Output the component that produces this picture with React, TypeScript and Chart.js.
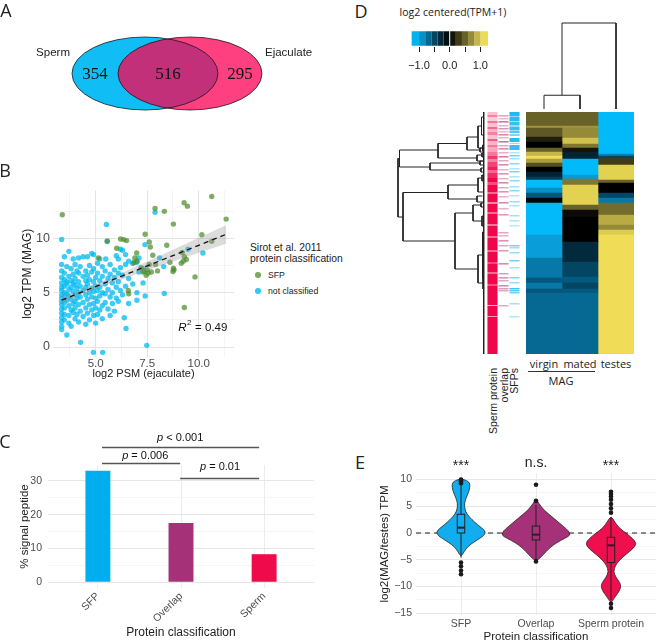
import React, { useEffect, useRef } from 'react';
import { Chart, registerables } from 'chart.js';

Chart.register(...registerables);

const SANS = "'Liberation Sans', Arial, Helvetica, sans-serif";
const HUM = "'Open Sans', 'Liberation Sans', sans-serif";
const SERIF = "'Liberation Serif', 'Times New Roman', serif";
Chart.defaults.font.family = SANS;
Chart.defaults.color = '#4D4D4D';

// ---------------- Panel A: Venn ----------------
const vennNames = ['Sperm', 'Ejaculate'];
const vennCenterX = [0, 0.616];
const vennCenterY = [0, 0];
const vennRadiusX = [1.0, 0.986];
const vennRadiusY = [0.5, 0.5];
const vennCounts = [354, 516, 295]; // only sperm, both, only ejaculate

// ---------------- Panel B: scatter ----------------
const sfpPoints: [number, number][] = [
  [3.38, 12.17], [10.63, 13.85], [9.29, 13.27], [9.45, 12.96], [7.88, 12.75], [8.33, 12.48], [11.33, 11.77],
  [8.77, 11.31], [10.15, 10.33], [10.63, 9.72], [6.21, 9.94], [6.36, 9.88], [6.5, 9.79], [5.56, 9.75], [7.6, 9.67],
  [8.45, 9.36], [7.65, 9.2], [7.77, 8.44], [6.99, 8.65], [6.9, 8.2], [7.0, 7.9], [6.85, 7.75], [6.02, 9.08],
  [9.2, 8.7], [9.3, 8.3], [9.25, 7.9], [9.4, 8.05], [9.15, 7.7], [7.6, 7.6], [7.9, 7.6], [5.13, 8.2], [7.3, 6.9],
  [7.5, 7.1], [7.45, 6.6], [8.75, 6.95], [8.8, 7.1], [9.82, 6.45], [6.58, 5.2], [6.6, 4.9], [9.3, 3.64], [7.2, 7.3],
  [8.0, 7.0], [7.7, 6.9], [8.6, 7.8], [7.4, 10.37], [8.77, 7.25], [7.35, 7.0], [7.55, 6.8],
];
const otherPoints: [number, number][] = [
  [3.35, 9.9], [3.35, 7.6], [3.35, 7.0], [3.35, 6.4], [3.35, 5.9], [3.35, 5.5], [3.35, 5.2], [3.35, 4.8], [3.35, 4.5],
  [3.35, 4.2], [3.35, 3.9], [3.35, 3.5], [3.35, 3.1], [3.35, 2.7], [3.35, 2.3], [3.35, 1.9], [3.35, 1.6],
  [3.48, 8.3], [3.48, 6.8], [3.48, 6.2], [3.48, 5.6], [3.48, 5.0], [3.48, 4.6], [3.48, 4.1], [3.48, 3.6], [3.48, 3.0], [3.48, 2.5],
  [3.6, 1.1], [3.6, 5.8], [3.6, 4.9], [3.6, 4.3], [3.6, 7.4], [3.6, 6.0],
  [3.7, 8.8], [3.7, 6.5], [3.7, 5.3], [3.7, 4.7], [3.7, 3.8], [3.7, 2.9], [3.7, 2.2],
  [3.81, 7.2], [3.81, 6.1], [3.81, 5.5], [3.81, 4.4], [3.81, 3.4], [3.81, 1.9],
  [3.91, 8.1], [3.91, 6.7], [3.91, 5.9], [3.91, 5.1], [3.91, 4.0], [3.91, 3.2],
  [4.0, 7.6], [4.0, 6.3], [4.0, 5.7], [4.0, 4.8], [4.0, 4.2], [4.0, 3.6], [4.0, 2.6],
  [4.09, 7.0], [4.09, 5.4], [4.09, 4.5], [4.09, 3.0],
  [4.17, 8.2], [4.17, 6.8], [4.17, 6.0], [4.17, 5.0], [4.17, 3.9], [4.17, 2.3],
  [4.27, 0.43], [4.25, 7.4], [4.25, 5.6], [4.25, 4.6], [4.25, 3.3],
  [4.39, 8.3], [4.39, 6.5], [4.39, 5.2], [4.39, 4.1], [4.39, 2.8],
  [4.52, 7.0], [4.52, 6.1], [4.52, 5.5], [4.52, 4.8], [4.52, 3.6], [4.52, 2.1],
  [4.6, 8.3], [4.6, 6.6], [4.6, 5.8], [4.6, 4.4], [4.6, 3.1],
  [4.7, 7.5], [4.7, 6.2], [4.7, 5.0], [4.7, 3.9], [4.7, 2.5],
  [4.81, 8.6], [4.81, 6.9], [4.81, 5.4], [4.81, 4.6], [4.81, 3.4],
  [4.9, 8.5], [4.9, 7.2], [4.9, 6.0], [4.9, 5.1], [4.9, 4.0], [4.9, 2.9], [4.89, -0.49],
  [5.0, 6.4], [5.0, 5.6], [5.0, 4.5], [5.0, 3.6], [5.0, 2.2],
  [5.09, 7.7], [5.09, 6.8], [5.09, 5.2], [5.09, 4.2], [5.09, 3.0],
  [5.2, 8.1], [5.2, 6.1], [5.2, 5.5], [5.2, 4.7], [5.2, 3.4],
  [5.34, -0.49], [5.32, 7.4], [5.32, 6.5], [5.32, 5.0], [5.32, 3.8], [5.32, 2.6],
  [5.52, 11.28], [5.56, 9.7], [5.49, 8.1], [5.46, 7.0], [5.46, 5.8], [5.46, 4.9], [5.46, 4.1],
  [5.6, 6.3], [5.6, 5.3], [5.6, 3.5], [5.7, 7.6], [5.7, 6.7], [5.7, 4.6], [5.7, 2.9],
  [5.81, 5.9], [5.81, 5.0], [5.81, 4.0], [5.91, 7.1], [5.91, 6.4], [5.91, 3.3],
  [6.0, 8.4], [6.0, 5.5], [6.0, 4.5], [6.1, 8.1], [6.1, 6.8], [6.1, 6.0], [6.1, 4.2],
  [6.2, 9.0], [6.2, 7.3], [6.2, 5.2], [6.3, 8.9], [6.3, 6.6], [6.3, 4.8], [6.39, 2.69],
  [6.45, 8.5], [6.45, 7.6], [6.45, 5.6], [6.47, 1.71], [6.6, 7.9], [6.6, 6.3], [6.6, 4.0],
  [6.8, 7.7], [6.8, 5.8], [7.0, 7.8], [7.0, 5.0], [7.0, 4.3], [7.1, 8.2], [7.1, 6.9],
  [7.3, 5.9], [7.3, 7.2], [7.39, 9.42], [7.4, 4.7], [7.48, 0.15], [7.88, 12.39], [8.1, 8.2],
  [8.33, 4.93], [8.3, 7.4], [9.48, 8.99], [10.2, 8.65],
];
const fitX = [3.35, 11.33];
const fitY = [4.31, 10.37];
const bandX = [3.35, 5.0, 7.5, 10.0, 11.33];
const bandLo = [3.95, 5.33, 7.05, 8.68, 9.5];
const bandHi = [4.67, 5.82, 7.87, 10.05, 11.2];
const bTicksX = [3.75, 5, 6.25, 7.5, 8.75, 10, 11.25];
const bMajorX = [5, 7.5, 10];
const bTicksY = [0, 2.5, 5, 7.5, 10, 12.5];
const bMajorY = [0, 5, 10];
const rSquared = '0.49';

// ---------------- Panel C: bars ----------------
const sigCats = ['SFP', 'Overlap', 'Sperm'];
const sigPct = [33.0, 17.5, 8.3];
const sigColors = ['#00AEEF', '#A53278', '#EF0A4B'];
const cmpX0 = [1.05, 1.05, 1.99];
const cmpX1 = [2.94, 1.99, 2.94];
const cmpLineY = [40.0, 35.3, 30.8];
const cmpTextX = [1.99, 1.57, 2.47];
const cmpTextY = [42.7, 37.4, 34.1];
const cmpText = ['< 0.001', '= 0.006', '= 0.01'];
const cTicksY = [0, 5, 10, 15, 20, 25, 30];

// ---------------- Panel D: heatmap ----------------
const heatCols = ['virgin', 'mated', 'testes'];
const heatVirgin = [[0, 14, 0.5], [14, 16, 0.75], [16, 25, 0.45], [25, 30, 0.15], [30, 36, 0.0], [36, 40, 0.5], [40, 44, 0.9], [44, 47, 1.15], [47, 51, 0.8], [51, 55, 0.4], [55, 60, 0.0], [60, 65, -0.25], [65, 68, -0.45], [68, 76, -1.2], [76, 81, -0.9], [81, 86, -0.6], [86, 91, -0.05], [91, 123, -1.2], [123, 146, -0.97], [146, 166, -0.8], [166, 171, -0.6], [171, 177, -0.8], [177, 181, -0.6], [181, 242, -0.72]];
const heatMated = [[0, 14, 0.5], [14, 16, 0.75], [16, 26, 0.7], [26, 32, 0.95], [32, 36, 0.6], [36, 40, 0.1], [40, 47, -0.25], [47, 63, -1.2], [63, 67, -0.95], [67, 73, 0.6], [73, 93, 1.05], [93, 98, 0.5], [98, 105, 0.05], [105, 130, 0.0], [130, 150, -0.3], [150, 165, -0.5], [165, 171, -0.62], [171, 177, -0.5], [177, 181, -0.62], [181, 242, -0.72]];
const heatTestes = [[0, 42, -1.2], [42, 44, -0.85], [44, 46, -0.5], [46, 53, 0.3], [53, 68, 1.05], [68, 71, 0.5], [71, 81, 0.0], [81, 86, -0.5], [86, 91, -0.8], [91, 103, 0.55], [103, 113, 0.85], [113, 118, 0.7], [118, 123, 1.0], [123, 242, 1.15]];
const heatRows = 242;
const cmapVals = [-1.25, -1, -0.75, -0.5, -0.25, 0, 0.25, 0.5, 0.75, 1, 1.25];
const cmapRGB = [[0, 191, 255], [10, 165, 225], [5, 110, 155], [3, 70, 100], [2, 35, 50], [0, 0, 0], [55, 50, 20], [105, 98, 40], [160, 148, 60], [220, 205, 80], [255, 230, 92]];
const cbarBreaks = [-1.25, -1.0, -0.8, -0.6, -0.4, -0.2, 0, 0.2, 0.4, 0.6, 0.8, 1.0, 1.25];
const cbarTicks = [-1, -0.5, 0, 0.5, 1];
const annotCols = ['Sperm protein', 'overlap', 'SFPs'];
const annotSperm = [[0, 3, 0.25], [3, 5, 0.5], [5, 9, 0.2], [9, 11, 0.55], [11, 15, 0.25], [15, 17, 0.6], [17, 20, 0.3], [20, 23, 0.5], [23, 27, 0.25], [27, 29, 0.65], [29, 33, 0.3], [33, 35, 0.55], [35, 40, 0.35], [40, 44, 0.55], [44, 47, 0.8], [47, 50, 0.5], [50, 55, 0.75], [55, 58, 0.9], [58, 61, 0.6], [61, 66, 0.85], [66, 70, 1], [70, 73, 0.7], [73, 80, 1], [80, 82, 0.6], [82, 90, 1], [90, 92, 0.5], [92, 100, 1], [100, 102, 0.6], [102, 112, 1], [112, 114, 0.55], [114, 124, 1], [124, 126, 0.6], [126, 138, 1], [138, 140, 0.6], [140, 150, 1], [150, 152, 0.7], [152, 160, 1], [160, 162, 0.6], [162, 172, 1], [172, 174, 0.7], [174, 193, 1], [193, 194, 0.3], [194, 204, 1], [204, 205, 0.4], [205, 242, 1]];
const annotOverlap = [[3, 4.6, 0.45], [6, 7.5, 0.35], [9, 10.6, 0.7], [13, 14.5, 0.4], [16, 17.5, 0.55], [19, 20.5, 0.35], [22, 23.6, 0.6], [25, 26.5, 0.4], [29, 30.6, 0.7], [33, 34.5, 0.45], [36, 37.6, 0.6], [40, 41.5, 0.4], [44, 45.6, 0.65], [48, 49.5, 0.45], [52, 53.6, 0.6], [57, 58.5, 0.4], [61, 62.6, 0.55], [66, 67.5, 0.4], [70, 71.6, 0.6], [75, 76.5, 0.45], [79, 80.6, 0.55], [84, 85.5, 0.4], [90, 91.6, 0.6], [96, 97.5, 0.4], [102, 103.6, 0.5], [120, 121.5, 0.45], [123, 124.5, 0.4], [128, 129.6, 0.55], [133, 134.5, 0.45], [138, 139.6, 0.5], [151, 152.6, 0.6], [161, 162.5, 0.5], [165, 166.6, 0.55], [168, 169.5, 0.45], [173, 174.6, 0.6], [176, 177.5, 0.5], [178, 179.5, 0.45], [193, 194.5, 0.45]];
const annotSfp = [[0, 4, 0.95], [4, 5, 0.45], [5, 9, 0.9], [9, 10, 0.4], [10, 13, 0.85], [13, 15, 0.45], [15, 18, 0.85], [18, 19, 0.4], [19, 21, 0.75], [22, 24, 0.55], [26, 30, 0.9], [31, 32, 0.45], [33, 38, 0.85], [40, 41.5, 0.35], [43, 44.5, 0.6], [46, 47.5, 0.4], [51, 52.5, 0.5], [56, 57.5, 0.35], [59, 60.5, 0.55], [64, 65.5, 0.35], [68, 69.5, 0.5], [74, 75.5, 0.4], [78, 79.5, 0.5], [83, 84.5, 0.35], [89, 90.5, 0.45], [93, 94.5, 0.35], [103, 104.5, 0.4], [108, 109.5, 0.35], [113, 114.5, 0.3], [133, 134.5, 0.6], [135, 136.5, 0.4], [140, 141.5, 0.45], [148, 149.5, 0.6], [155, 156.5, 0.4], [165, 166.5, 0.55], [170, 171.5, 0.45], [176, 177.5, 0.8], [178, 179.5, 0.7], [180, 181.5, 0.6], [191, 192.5, 0.4], [204, 205.5, 0.35]];
// row dendrogram merges: [height, rowA, rowB, heightA, heightB]
const rowMerges = [
  [8.6, 46.5, 105, 8.45, 8.1], [8.45, 38, 55, 4.6, 5.4], [4.6, 31.5, 46, 1.7, 0.7], [1.7, 25, 38, 0.6, 0.4],
  [0.6, 14, 36, 0.25, 0.15], [0.25, 5, 23, 0.05, 0.1], [0.15, 33, 39, 0, 0], [0.4, 36, 40, 0.05, 0],
  [0.7, 43, 49, 0.2, 0.1], [0.2, 41, 45, 0, 0], [5.4, 51, 58, 0.4, 0.3], [0.4, 49, 53, 0.1, 0], [0.3, 56, 60, 0.05, 0.1],
  [8.1, 80.5, 129, 3.6, 2.9], [3.6, 73, 87, 0.6, 0.7], [0.6, 66, 80, 0.2, 0.1], [0.2, 63, 69, 0, 0.05],
  [0.7, 84, 90, 0.15, 0.1], [2.9, 101, 157, 1.1, 0.6], [1.1, 93, 109, 0.3, 0.2], [0.3, 91, 95, 0, 0.05],
  [0.2, 104, 114, 0.05, 0.05], [0.6, 143, 171, 0.15, 0.1], [0.15, 120, 166, 0.05, 0], [0.1, 165, 177, 0, 0],
];
const rowLeafHeight = 0.03;
const rowMaxHeight = 8.6;
// column dendrogram merges: [xLeft, xRight, height, heightLeft, heightRight]
const colMerges = [[0.5, 1.5, 0.16, 0, 0], [1.0, 2.5, 1.0, 0.16, 0]];

// ---------------- Panel E: violins ----------------
const vioGroups = ['SFP', 'Overlap', 'Sperm protein'];
const vioColors = ['#11ADEE', '#A53278', '#EF0F4F'];
const vioLevels = [
  [10.1, 9.8, 9.3, 8.5, 7.5, 6.5, 5.5, 4.5, 3.5, 2.5, 1.5, 0.8, 0.2, -0.5, -1.0, -1.7, -2.5, -3.5, -4.5],
  [6.4, 5.5, 4.5, 3.5, 2.3, 1.2, 0.4, -0.4, -1.0, -1.8, -2.6, -3.5, -4.5, -5.3],
  [3.2, 2.0, 1.0, 0.0, -1.0, -2.0, -3.0, -4.0, -5.0, -6.0, -7.2, -8.3, -9.2, -10.0, -10.8, -11.7, -12.5, -13.1],
];
const vioHalfWidth = [
  [0, 0.079, 0.118, 0.118, 0.099, 0.066, 0.046, 0.05, 0.079, 0.145, 0.224, 0.289, 0.329, 0.303, 0.25, 0.171, 0.092, 0.039, 0],
  [0, 0.039, 0.092, 0.171, 0.276, 0.368, 0.434, 0.461, 0.382, 0.276, 0.197, 0.132, 0.066, 0],
  [0, 0.053, 0.105, 0.197, 0.289, 0.342, 0.289, 0.197, 0.118, 0.059, 0.033, 0.066, 0.118, 0.132, 0.112, 0.066, 0.026, 0],
];
const boxLow = [-4.6, -5.0, -12.5];
const boxQ1 = [0.0, -1.3, -5.5];
const boxMed = [1.0, -0.3, -2.3];
const boxQ3 = [3.5, 1.3, -0.8];
const boxHigh = [9.0, 5.2, 3.0];
const vioOutliers = [
  [9.3, 9.6, 9.8, 10.0, -5.5, -6.2, -7.0, -7.7],
  [6.0, 9.0, -5.3],
  [3.8, 4.6, 5.4, 6.2, 6.8, 7.3, 7.7, -13.2, -14.0],
];
const vioSignif = ['***', 'n.s.', '***'];
const eTicksY = [-15, -12.5, -10, -7.5, -5, -2.5, 0, 2.5, 5, 7.5, 10];

// ---------------- helpers ----------------
function cmap(v: number) {
  const n = cmapVals.length;
  if (v <= cmapVals[0]) return `rgb(${cmapRGB[0].join(',')})`;
  if (v >= cmapVals[n - 1]) return `rgb(${cmapRGB[n - 1].join(',')})`;
  let i = 0;
  while (v > cmapVals[i + 1]) i++;
  const t = (v - cmapVals[i]) / (cmapVals[i + 1] - cmapVals[i]);
  const c = cmapRGB[i].map((a, k) => Math.round(a + (cmapRGB[i + 1][k] - a) * t));
  return `rgb(${c.join(',')})`;
}
const minus = (v: number) => (v < 0 ? '\u2212' + Math.abs(v) : String(v));
const baseOpts = (extra: any) => ({
  responsive: false,
  animation: false,
  events: [],
  plugins: { legend: { display: false }, tooltip: { enabled: false } },
  ...extra,
});
const setTicks = (vals: number[]) => (s: any) => {
  s.ticks = vals.map((value) => ({ value }));
};

// ---------------- plugins ----------------
const vennPlugin = {
  id: 'venn',
  afterDatasetsDraw(chart: any) {
    const { ctx, scales } = chart;
    const x = scales.x, y = scales.y;
    const path = (i: number) => {
      const cx = x.getPixelForValue(vennCenterX[i]);
      const cy = y.getPixelForValue(vennCenterY[i]);
      const rx = Math.abs(x.getPixelForValue(vennCenterX[i] + vennRadiusX[i]) - cx);
      const ry = Math.abs(y.getPixelForValue(vennCenterY[i] + vennRadiusY[i]) - cy);
      ctx.beginPath();
      ctx.ellipse(cx, cy, rx, ry, 0, 0, Math.PI * 2);
    };
    ctx.save();
    path(0); ctx.fillStyle = '#10BEF5'; ctx.fill();
    path(1); ctx.fillStyle = '#FE3F80'; ctx.fill();
    ctx.save(); path(0); ctx.clip(); path(1); ctx.fillStyle = '#C2307A'; ctx.fill(); ctx.restore();
    ctx.strokeStyle = '#1a1a1a'; ctx.lineWidth = 0.8;
    path(0); ctx.stroke(); path(1); ctx.stroke();
    const leftA = vennCenterX[0] - vennRadiusX[0], rightA = vennCenterX[0] + vennRadiusX[0];
    const leftB = vennCenterX[1] - vennRadiusX[1], rightB = vennCenterX[1] + vennRadiusX[1];
    const pos = [(leftA + leftB) / 2, (leftB + rightA) / 2, (rightA + rightB) / 2];
    ctx.fillStyle = '#111';
    ctx.font = `17px ${SERIF}`;
    ctx.textAlign = 'center'; ctx.textBaseline = 'middle';
    pos.forEach((p, i) => ctx.fillText(String(vennCounts[i]), x.getPixelForValue(p), y.getPixelForValue(0) + 1));
    ctx.font = `11.5px ${SANS}`;
    ctx.fillStyle = '#222';
    ctx.textAlign = 'right';
    ctx.fillText(vennNames[0], x.getPixelForValue(leftA) - 2, y.getPixelForValue(0.29));
    ctx.textAlign = 'left';
    ctx.fillText(vennNames[1], x.getPixelForValue(rightB) + 3, y.getPixelForValue(0.29));
    ctx.restore();
  },
};

const r2Plugin = {
  id: 'r2',
  afterDatasetsDraw(chart: any) {
    const { ctx, scales } = chart;
    const px = scales.x.getPixelForValue(9.0), py = scales.y.getPixelForValue(1.8);
    ctx.save();
    ctx.fillStyle = '#111'; ctx.textBaseline = 'middle'; ctx.textAlign = 'left';
    ctx.font = `italic 11.5px ${SANS}`;
    ctx.fillText('R', px, py);
    let w = ctx.measureText('R').width;
    ctx.font = `8px ${SANS}`;
    ctx.fillText('2', px + w + 0.5, py - 5);
    w += ctx.measureText('2').width + 1;
    ctx.font = `11.5px ${SANS}`;
    ctx.fillText(' = ' + rSquared, px + w, py);
    ctx.restore();
  },
};

const sigPlugin = {
  id: 'sig',
  afterDraw(chart: any) {
    const { ctx, scales } = chart;
    const x = scales.x, y = scales.y;
    ctx.save();
    ctx.strokeStyle = '#555'; ctx.lineWidth = 1.3;
    cmpX0.forEach((x0, i) => {
      const yy = Math.round(y.getPixelForValue(cmpLineY[i])) + 0.5;
      ctx.beginPath(); ctx.moveTo(x.getPixelForValue(x0), yy); ctx.lineTo(x.getPixelForValue(cmpX1[i]), yy); ctx.stroke();
      ctx.textBaseline = 'middle'; ctx.textAlign = 'left'; ctx.fillStyle = '#111';
      ctx.font = `italic 11px ${SANS}`;
      const wp = ctx.measureText('p').width;
      ctx.font = `11px ${SANS}`;
      const rest = ' ' + cmpText[i];
      const wr = ctx.measureText(rest).width;
      const cx = x.getPixelForValue(cmpTextX[i]) - (wp + wr) / 2;
      const cy = y.getPixelForValue(cmpTextY[i]);
      ctx.font = `italic 11px ${SANS}`;
      ctx.fillText('p', cx, cy);
      ctx.font = `11px ${SANS}`;
      ctx.fillText(rest, cx + wp, cy);
    });
    ctx.restore();
  },
};

function smoothClosed(ctx: any, pts: number[][]) {
  const n = pts.length;
  const mid = (a: number[], b: number[]) => [(a[0] + b[0]) / 2, (a[1] + b[1]) / 2];
  ctx.beginPath();
  const m0 = mid(pts[n - 1], pts[0]);
  ctx.moveTo(m0[0], m0[1]);
  for (let i = 0; i < n; i++) {
    const m = mid(pts[i], pts[(i + 1) % n]);
    ctx.quadraticCurveTo(pts[i][0], pts[i][1], m[0], m[1]);
  }
  ctx.closePath();
}

const violinPlugin = {
  id: 'violin',
  beforeDatasetsDraw(chart: any) {
    const { ctx, chartArea, scales } = chart;
    const x = scales.x, y = scales.y;
    ctx.save();
    const y0 = y.getPixelForValue(0);
    ctx.strokeStyle = '#222'; ctx.lineWidth = 1.2; ctx.setLineDash([5, 4]);
    ctx.beginPath(); ctx.moveTo(chartArea.left, y0); ctx.lineTo(chartArea.right, y0); ctx.stroke();
    ctx.setLineDash([]);
    vioGroups.forEach((g, gi) => {
      const c = gi + 1;
      const lv = vioLevels[gi], hw = vioHalfWidth[gi];
      const right = lv.map((v, i) => [x.getPixelForValue(c + hw[i]), y.getPixelForValue(v)]);
      const left = lv.map((v, i) => [x.getPixelForValue(c - hw[i]), y.getPixelForValue(v)]).reverse().slice(1, -1);
      smoothClosed(ctx, right.concat(left));
      ctx.fillStyle = vioColors[gi]; ctx.fill();
      ctx.strokeStyle = '#222'; ctx.lineWidth = 0.8; ctx.stroke();
      const cx = x.getPixelForValue(c);
      const bw = x.getPixelForValue(c + 0.05) - cx;
      ctx.strokeStyle = '#222'; ctx.lineWidth = 1;
      ctx.beginPath();
      ctx.moveTo(cx, y.getPixelForValue(boxHigh[gi])); ctx.lineTo(cx, y.getPixelForValue(boxQ3[gi]));
      ctx.moveTo(cx, y.getPixelForValue(boxQ1[gi])); ctx.lineTo(cx, y.getPixelForValue(boxLow[gi]));
      ctx.stroke();
      const top = y.getPixelForValue(boxQ3[gi]), bot = y.getPixelForValue(boxQ1[gi]);
      ctx.strokeRect(cx - bw, top, bw * 2, bot - top);
      ctx.lineWidth = 2;
      ctx.beginPath();
      ctx.moveTo(cx - bw, y.getPixelForValue(boxMed[gi])); ctx.lineTo(cx + bw, y.getPixelForValue(boxMed[gi]));
      ctx.stroke();
    });
    ctx.restore();
  },
  afterDraw(chart: any) {
    const { ctx, scales } = chart;
    ctx.save();
    ctx.fillStyle = '#222'; ctx.font = `14px ${SANS}`; ctx.textAlign = 'center'; ctx.textBaseline = 'middle';
    vioSignif.forEach((s, i) => ctx.fillText(s, scales.x.getPixelForValue(i + 1), scales.y.getPixelForValue(13) + (s === '***' ? 3 : 0)));
    ctx.restore();
  },
};

// ---------------- chart configs ----------------
function vennConfig() {
  return {
    type: 'scatter',
    data: { datasets: [] },
    options: baseOpts({
      scales: {
        x: { type: 'linear', display: false, min: -1.986, max: 2.534 },
        y: { type: 'linear', display: false, min: -0.774, max: 0.733 },
      },
    }),
    plugins: [vennPlugin],
  };
}

function scatterConfig() {
  const pt = (arr: [number, number][]) => arr.map(([x, y]) => ({ x, y }));
  return {
    type: 'line',
    data: {
      datasets: [
        { label: 'fit', data: fitX.map((v, i) => ({ x: v, y: fitY[i] })), borderColor: '#111', borderWidth: 1.3, borderDash: [5, 4], pointRadius: 0, showLine: true, fill: false },
        { label: 'ciHi', data: bandX.map((v, i) => ({ x: v, y: bandHi[i] })), borderColor: 'transparent', borderWidth: 0, pointRadius: 0, showLine: true, fill: '+1', backgroundColor: 'rgba(150,150,150,0.33)', cubicInterpolationMode: 'monotone' },
        { label: 'ciLo', data: bandX.map((v, i) => ({ x: v, y: bandLo[i] })), borderColor: 'transparent', borderWidth: 0, pointRadius: 0, showLine: true, fill: false, cubicInterpolationMode: 'monotone' },
        { label: 'SFP', data: pt(sfpPoints), showLine: false, pointRadius: 2.7, pointBackgroundColor: 'rgba(78,140,45,0.72)', pointBorderWidth: 0, pointBorderColor: 'transparent' },
        { label: 'not classified', data: pt(otherPoints), showLine: false, pointRadius: 2.7, pointBackgroundColor: 'rgba(0,186,242,0.75)', pointBorderWidth: 0, pointBorderColor: 'transparent' },
      ],
    },
    options: baseOpts({
      layout: { padding: { top: 10, right: 11, left: 0, bottom: 0 } },
      scales: {
        x: {
          type: 'linear', min: 2.93, max: 11.71, offset: false,
          afterBuildTicks: setTicks(bTicksX),
          afterFit: (s: any) => { s.height = 26; },
          ticks: { callback: (v: number) => (bMajorX.includes(v) ? v.toFixed(1) : ''), font: { size: 11.5 }, color: '#4D4D4D', padding: 0, autoSkip: false, maxRotation: 0 },
          grid: { drawTicks: false, color: (c: any) => (bMajorX.includes(c.tick?.value) ? '#E4E4E4' : '#F1F1F1'), lineWidth: (c: any) => (bMajorX.includes(c.tick?.value) ? 1 : 0.7) },
          border: { display: false },
          title: { display: true, text: 'log2 PSM (ejaculate)', font: { size: 11 }, color: '#222', padding: { top: 0, bottom: 2 } },
        },
        y: {
          type: 'linear', min: -0.92, max: 14.4,
          afterBuildTicks: setTicks(bTicksY),
          afterFit: (s: any) => { s.width = 53; },
          ticks: { callback: (v: number) => (bMajorY.includes(v) ? String(v) : ''), font: { size: 12.5 }, color: '#4D4D4D', padding: 3, autoSkip: false },
          grid: { drawTicks: false, color: (c: any) => (bMajorY.includes(c.tick?.value) ? '#E4E4E4' : '#F1F1F1'), lineWidth: (c: any) => (bMajorY.includes(c.tick?.value) ? 1 : 0.7) },
          border: { display: false },
          title: { display: true, text: 'log2 TPM (MAG)', font: { size: 12 }, color: '#222', padding: { top: 20.8, bottom: 0 } },
        },
      },
    }),
    plugins: [r2Plugin],
  };
}

function barConfig() {
  return {
    type: 'bar',
    data: {
      datasets: [{ data: sigCats.map((c, i) => ({ x: i + 1, y: sigPct[i] })), backgroundColor: sigColors, barPercentage: 0.3, categoryPercentage: 1, borderWidth: 0 }],
    },
    options: baseOpts({
      layout: { padding: { top: 35, right: 16, left: 0, bottom: 0 } },
      scales: {
        x: {
          type: 'linear', min: 0.4, max: 3.6, offset: false,
          afterBuildTicks: setTicks([1, 2, 3]),
          afterFit: (s: any) => { s.height = 53; },
          ticks: { callback: (v: number) => sigCats[v - 1] ?? '', minRotation: 45, maxRotation: 45, font: { size: 10.5 }, color: '#4D4D4D', padding: 2, autoSkip: false },
          grid: { drawTicks: false, offset: false, color: '#ECECEC' },
          border: { display: false },
          title: { display: true, text: 'Protein classification', font: { size: 12 }, color: '#222', padding: { top: 0, bottom: 1 } },
        },
        y: {
          type: 'linear', min: -1.7, max: 34.7,
          afterBuildTicks: setTicks(cTicksY),
          afterFit: (s: any) => { s.width = 48; },
          ticks: { callback: (v: number) => (v % 10 === 0 ? String(v) : ''), font: { size: 10.5 }, color: '#4D4D4D', padding: 6, autoSkip: false },
          grid: { drawTicks: false, color: (c: any) => (c.tick?.value % 10 === 0 ? '#E6E6E6' : '#F2F2F2'), lineWidth: (c: any) => (c.tick?.value % 10 === 0 ? 1 : 0.7) },
          border: { display: false },
          title: { display: true, text: '% signal peptide', font: { size: 11.5 }, color: '#222', padding: { top: 17.8, bottom: 0 } },
        },
      },
    }),
    plugins: [sigPlugin],
  };
}

function colorbarConfig() {
  const bins = cbarBreaks.slice(0, -1).map((b, i) => [b, cbarBreaks[i + 1]]);
  return {
    type: 'bar',
    data: {
      labels: ['scale'],
      datasets: bins.map((b) => ({ data: [b], backgroundColor: cmap((b[0] + b[1]) / 2), grouped: false, barPercentage: 0.85, categoryPercentage: 1, borderWidth: 0 })),
    },
    options: baseOpts({
      indexAxis: 'y',
      layout: { padding: { top: 8, right: 8, left: 8, bottom: 0 } },
      scales: {
        x: {
          type: 'linear', min: -1.25, max: 1.25,
          afterBuildTicks: setTicks(cbarTicks),
          afterFit: (s: any) => { s.height = 27; },
          ticks: { callback: (v: number) => (Number.isInteger(v) ? (v < 0 ? '\u2212' : '') + Math.abs(v).toFixed(1) : ''), font: { size: 11 }, color: '#222', padding: 7.4, autoSkip: false, maxRotation: 0 },
          grid: { drawOnChartArea: false, drawTicks: true, tickLength: 5, color: '#222', lineWidth: 1 },
          border: { display: false },
        },
        y: { display: false },
      },
    }),
  };
}

function heatConfig() {
  const cols = [heatVirgin, heatMated, heatTestes];
  return {
    type: 'bar',
    data: {
      datasets: cols.map((col, ci) => ({
        label: heatCols[ci],
        data: col.map((r) => ({ x: ci + 0.5, y: [r[0], r[1]] })),
        backgroundColor: col.map((r) => cmap(r[2])),
        grouped: false, barPercentage: 1, categoryPercentage: 1, borderWidth: 0,
      })),
    },
    options: baseOpts({
      scales: {
        x: { type: 'linear', display: false, offset: false, min: 0, max: 3, afterBuildTicks: setTicks([0.5, 1.5, 2.5]) },
        y: { type: 'linear', display: false, min: 0, max: heatRows, reverse: true },
      },
    }),
  };
}

function annotConfig() {
  const cols = [annotSperm, annotOverlap, annotSfp];
  const rgb = ['240,6,74', '190,60,125', '20,180,238'];
  return {
    type: 'bar',
    data: {
      datasets: cols.map((col, ci) => ({
        label: annotCols[ci],
        data: col.map((r) => ({ x: ci + 0.5, y: [r[0], r[1]] })),
        backgroundColor: col.map((r) => `rgba(${rgb[ci]},${r[2]})`),
        grouped: false, barPercentage: 0.92, categoryPercentage: 1, borderWidth: 0,
      })),
    },
    options: baseOpts({
      scales: {
        x: { type: 'linear', display: false, offset: false, min: 0, max: 3, afterBuildTicks: setTicks([0.5, 1.5, 2.5]) },
        y: { type: 'linear', display: false, min: 0, max: heatRows, reverse: true },
      },
    }),
  };
}

function rowDendConfig() {
  const ds: any[] = rowMerges.map((m) => ({
    data: [{ x: m[3], y: m[1] }, { x: m[0], y: m[1] }, { x: m[0], y: m[2] }, { x: m[4], y: m[2] }],
    showLine: true, pointRadius: 0, borderColor: '#222', borderWidth: 1, clip: false,
  }));
  ds.push({ data: [{ x: rowLeafHeight, y: 0 }, { x: rowLeafHeight, y: heatRows }], showLine: true, pointRadius: 0, borderColor: '#222', borderWidth: 1, clip: false });
  return {
    type: 'scatter',
    data: { datasets: ds },
    options: baseOpts({
      layout: { padding: { left: 3, right: 3, top: 0, bottom: 0 } },
      scales: {
        x: { type: 'linear', display: false, min: 0, max: rowMaxHeight, reverse: true },
        y: { type: 'linear', display: false, min: 0, max: heatRows, reverse: true },
      },
    }),
  };
}

function colDendConfig() {
  return {
    type: 'scatter',
    data: {
      datasets: colMerges.map((m) => ({
        data: [{ x: m[0], y: m[3] }, { x: m[0], y: m[2] }, { x: m[1], y: m[2] }, { x: m[1], y: m[4] }],
        showLine: true, pointRadius: 0, borderColor: '#222', borderWidth: 1, clip: false,
      })),
    },
    options: baseOpts({
      layout: { padding: { left: 6, right: 6, top: 8, bottom: 3 } },
      scales: {
        x: { type: 'linear', display: false, min: 0, max: 3 },
        y: { type: 'linear', display: false, min: 0, max: 1 },
      },
    }),
  };
}

function violinConfig() {
  const pts: any[] = [];
  vioOutliers.forEach((arr, gi) => arr.forEach((v) => pts.push({ x: gi + 1, y: v })));
  return {
    type: 'scatter',
    data: { datasets: [{ label: 'outliers', data: pts, pointRadius: 2.3, pointBackgroundColor: '#1a1a1a', pointBorderWidth: 0 }] },
    options: baseOpts({
      layout: { padding: { top: 23, right: 0, left: 0, bottom: 0 } },
      scales: {
        x: {
          type: 'linear', min: 0.4, max: 3.6,
          afterBuildTicks: setTicks([1, 2, 3]),
          afterFit: (s: any) => { s.height = 26; },
          ticks: { callback: (v: number) => vioGroups[v - 1] ?? '', font: { size: 10.5 }, color: '#4D4D4D', padding: 3, autoSkip: false, maxRotation: 0 },
          grid: { drawTicks: false, color: '#ECECEC' },
          border: { display: false },
          title: { display: true, text: 'Protein classification', font: { size: 11.5 }, color: '#222', padding: { top: 0, bottom: -2.6 } },
        },
        y: {
          type: 'linear', min: -15.3, max: 11.2,
          afterBuildTicks: setTicks(eTicksY),
          afterFit: (s: any) => { s.width = 46; },
          ticks: { callback: (v: number) => (v % 5 === 0 ? minus(v) : ''), font: { size: 10.5 }, color: '#4D4D4D', padding: 4, autoSkip: false },
          grid: { drawTicks: false, color: (c: any) => (c.tick?.value % 5 === 0 ? '#E6E6E6' : '#F2F2F2'), lineWidth: (c: any) => (c.tick?.value % 5 === 0 ? 1 : 0.7) },
          border: { display: false },
          title: { display: true, text: 'log2(MAG/testes) TPM', font: { size: 11.5 }, color: '#222', padding: { top: 8.4, bottom: 0 } },
        },
      },
    }),
    plugins: [violinPlugin],
  };
}

// ---------------- components ----------------
function ChartBox({ x, y, w, h, make }: { x: number; y: number; w: number; h: number; make: () => any }) {
  const ref = useRef<HTMLCanvasElement>(null);
  useEffect(() => {
    const chart = new Chart(ref.current as HTMLCanvasElement, make());
    return () => chart.destroy();
  }, []);
  return <canvas ref={ref} width={w} height={h} style={{ position: 'absolute', left: x, top: y, width: w, height: h }} />;
}

function Txt({ x, y, text, size, font = SANS, align = 'center', color = '#222' }: any) {
  const tx = align === 'center' ? '-50%' : align === 'right' ? '-100%' : '0';
  return (
    <div style={{ position: 'absolute', left: x, top: y, transform: `translate(${tx}, -50%)`, fontSize: size, fontFamily: font, color, whiteSpace: 'nowrap', lineHeight: 1 }}>
      {text}
    </div>
  );
}

function VText({ x, y, text, size }: any) {
  return (
    <div style={{ position: 'absolute', left: x, top: y, writingMode: 'vertical-rl', transform: 'translateX(-50%) rotate(180deg)', fontSize: size, fontFamily: SANS, color: '#222', whiteSpace: 'nowrap', lineHeight: 1 }}>
      {text}
    </div>
  );
}

function Dot({ x, y, color }: any) {
  return <div style={{ position: 'absolute', left: x - 2.8, top: y - 2.8, width: 5.6, height: 5.6, borderRadius: '50%', background: color }} />;
}

export default function App() {
  return (
    <div style={{ position: 'absolute', left: 0, top: 0, width: 660, height: 641, background: '#fff', overflow: 'hidden' }}>
      <ChartBox x={0} y={20} w={330} h={110} make={vennConfig} />
      <ChartBox x={0} y={180} w={245} h={203} make={scatterConfig} />
      <ChartBox x={0} y={430} w={330} h={211} make={barConfig} />
      <ChartBox x={400} y={22} w={96} h={52} make={colorbarConfig} />
      <ChartBox x={520} y={15} w={120} h={97} make={colDendConfig} />
      <ChartBox x={395} y={112} w={92} h={242} make={rowDendConfig} />
      <ChartBox x={487} y={112} w={33} h={242} make={annotConfig} />
      <ChartBox x={526} y={112} w={108} h={242} make={heatConfig} />
      <ChartBox x={370} y={450} w={290} h={191} make={violinConfig} />

      <Txt x={6} y={10} text="A" size={18} font={HUM} />
      <Txt x={5} y={170} text="B" size={18} font={HUM} />
      <Txt x={5} y={441} text="C" size={18} font={HUM} />
      <Txt x={361} y={11} text="D" size={18} font={HUM} />
      <Txt x={360} y={462} text="E" size={18} font={HUM} />

      <Txt x={250} y={248} text="Sirot et al. 2011" size={10.3} align="left" />
      <Txt x={250} y={259} text="protein classification" size={10.3} align="left" />
      <Dot x={258} y={275} color="rgba(78,140,45,0.75)" />
      <Txt x={268} y={275} text="SFP" size={8.7} align="left" />
      <Dot x={258} y={291} color="rgba(0,186,242,0.8)" />
      <Txt x={268} y={291} text="not classified" size={8.7} align="left" />

      <Txt x={453} y={12} text="log2 centered(TPM+1)" size={10.5} font={HUM} />
      <Txt x={544} y={363} text={heatCols[0]} size={11} font={HUM} />
      <Txt x={580} y={363} text={heatCols[1]} size={11} font={HUM} />
      <Txt x={616} y={363} text={heatCols[2]} size={11} font={HUM} />
      <div style={{ position: 'absolute', left: 528, top: 371, width: 67, height: 1, background: '#333' }} />
      <Txt x={561} y={380} text="MAG" size={11} font={HUM} />
      <VText x={493} y={368} text={annotCols[0]} size={10.5} />
      <VText x={503.5} y={368} text={annotCols[1]} size={10.5} />
      <VText x={514} y={368} text={annotCols[2]} size={10.5} />
    </div>
  );
}
